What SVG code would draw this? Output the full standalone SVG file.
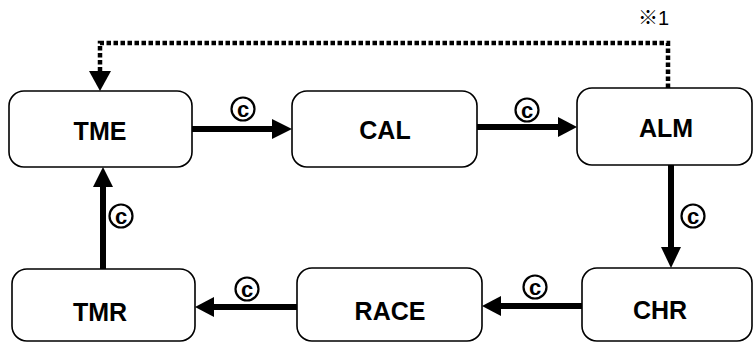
<svg xmlns="http://www.w3.org/2000/svg" width="754" height="343" viewBox="0 0 754 343">
<style>
.box{fill:#fff;stroke:#000;stroke-width:1.6}
.lbl{font-family:"Liberation Sans",Arial,sans-serif;font-weight:bold;font-size:25px;text-anchor:middle;fill:#000}
.shaft{stroke:#000;stroke-width:6;fill:none}
.head{fill:#000}
.cc{fill:#fff;stroke:#000;stroke-width:2.2}
.ct{font-family:"Liberation Sans",Arial,sans-serif;font-weight:bold;font-size:22px;text-anchor:middle;fill:#000}
.dash{stroke:#000;stroke-width:4.5;fill:none;stroke-dasharray:4.5 2.5}
.note{font-family:"Liberation Sans","Noto Sans CJK JP",sans-serif;font-size:20px;fill:#000}
</style>
<rect width="754" height="343" fill="#fff"/>
<g id="connectors">
  <path class="dash" d="M668 88 V43 H100 V73"/>
  <polygon class="head" points="89,71 111,71 100,91"/>
  <text class="note" x="638" y="25">※1</text>
  <line class="shaft" x1="192" y1="129" x2="274" y2="129"/>
  <polygon class="head" points="272,119 292,129 272,139"/>
  <circle class="cc" cx="243" cy="109" r="11.5"/><text class="ct" x="243" y="116.5">c</text>
  <line class="shaft" x1="477" y1="127" x2="560" y2="127"/>
  <polygon class="head" points="558,117 577,127 558,137"/>
  <circle class="cc" cx="527" cy="110" r="11.5"/><text class="ct" x="527" y="117.5">c</text>
  <line class="shaft" x1="671" y1="165" x2="671" y2="249"/>
  <polygon class="head" points="661,247 681,247 671,268"/>
  <circle class="cc" cx="693" cy="216" r="11.5"/><text class="ct" x="693" y="223.5">c</text>
  <line class="shaft" x1="582" y1="306" x2="499" y2="306"/>
  <polygon class="head" points="501,296 482,306 501,316"/>
  <circle class="cc" cx="535" cy="287" r="11.5"/><text class="ct" x="535" y="294.5">c</text>
  <line class="shaft" x1="297" y1="307" x2="212" y2="307"/>
  <polygon class="head" points="214,297 195,307 214,317"/>
  <circle class="cc" cx="247" cy="289" r="11.5"/><text class="ct" x="247" y="296.5">c</text>
  <line class="shaft" x1="103" y1="269" x2="103" y2="185"/>
  <polygon class="head" points="93,187 113,187 103,167"/>
  <circle class="cc" cx="121" cy="216" r="11.5"/><text class="ct" x="121" y="223.5">c</text>
</g>
<g id="TME"><rect class="box" x="9" y="91" width="183" height="76" rx="15"/><text class="lbl" x="100" y="140">TME</text></g>
<g id="CAL"><rect class="box" x="292" y="91" width="185" height="76" rx="15"/><text class="lbl" x="385" y="139">CAL</text></g>
<g id="ALM"><rect class="box" x="577" y="88" width="175" height="77" rx="15"/><text class="lbl" x="666" y="137">ALM</text></g>
<g id="CHR"><rect class="box" x="582" y="268" width="170" height="73" rx="15"/><text class="lbl" x="660" y="319">CHR</text></g>
<g id="RACE"><rect class="box" x="297" y="268" width="185" height="73" rx="15"/><text class="lbl" x="390" y="320">RACE</text></g>
<g id="TMR"><rect class="box" x="12" y="269" width="183" height="72" rx="15"/><text class="lbl" x="100" y="321">TMR</text></g>
</svg>
